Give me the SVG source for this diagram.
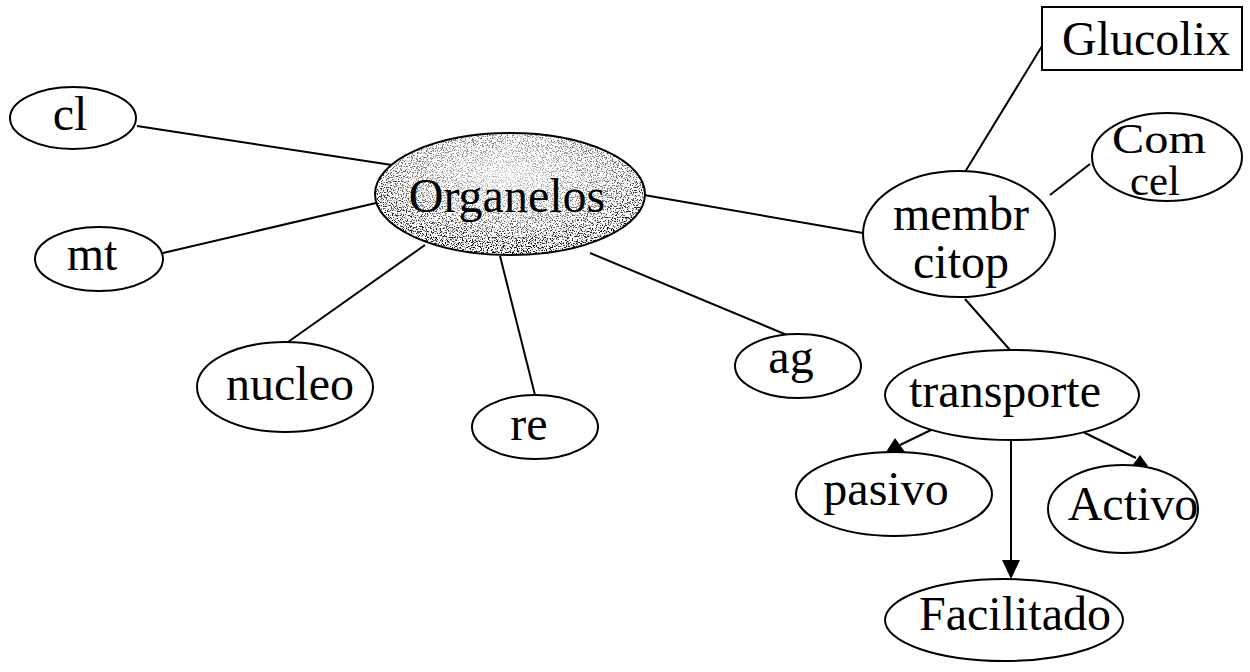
<svg xmlns="http://www.w3.org/2000/svg" width="1250" height="672" viewBox="0 0 1250 672">
  <style>
    .node { fill: #ffffff; stroke: #000000; stroke-width: 2; }
    .edge { stroke: #000000; stroke-width: 2; fill: none; }
    .head { fill: #000000; stroke: none; }
    .label { font-family: "Liberation Serif", "Times New Roman", serif; font-size: 48px; fill: #000000; text-anchor: middle; }
    .small { font-size: 42px; }
  </style>
  <defs>
    <!-- speckled grey texture for the central concept -->
    <filter id="grain" x="0" y="0" width="1" height="1" color-interpolation-filters="sRGB">
      <feTurbulence type="fractalNoise" baseFrequency="0.8" numOctaves="3" seed="7" result="fine"/>
      <feColorMatrix in="fine" type="matrix" values="0 0 0 0 0  0 0 0 0 0  0 0 0 0 0  -7 0 0 0 3.45" result="dots"/>
      <feComposite in="dots" in2="SourceGraphic" operator="in"/>
    </filter>
    <!-- speckle density: sparse near the label, dense toward the rim -->
    <radialGradient id="density" cx="0.5" cy="0.35" r="0.6">
      <stop offset="0" stop-color="#000" stop-opacity="0.2"/>
      <stop offset="0.6" stop-color="#000" stop-opacity="0.55"/>
      <stop offset="1" stop-color="#000" stop-opacity="1"/>
    </radialGradient>
    <clipPath id="orgClip">
      <ellipse cx="510" cy="194" rx="135" ry="61"/>
    </clipPath>
  </defs>

  <!-- connectors -->
  <g id="connectors">
    <line class="edge" x1="137" y1="126" x2="392" y2="165"/>
    <line class="edge" x1="163" y1="253" x2="376" y2="203"/>
    <line class="edge" x1="425" y1="245" x2="288" y2="342"/>
    <line class="edge" x1="500" y1="256" x2="535" y2="395"/>
    <line class="edge" x1="590" y1="253" x2="787" y2="335"/>
    <line class="edge" x1="644" y1="195" x2="863" y2="233"/>
    <line class="edge" x1="1042" y1="46" x2="965" y2="172"/>
    <line class="edge" x1="1090" y1="164" x2="1050" y2="195"/>
    <line class="edge" x1="965" y1="299" x2="1010" y2="350"/>
    <line class="edge" x1="933" y1="429" x2="900" y2="445"/>
    <polygon class="head" points="895,438 886,452 905,452"/>
    <line class="edge" x1="1075" y1="428" x2="1136" y2="458"/>
    <polygon class="head" points="1140,455 1132,466 1148,466"/>
    <line class="edge" x1="1011" y1="440" x2="1011" y2="565"/>
    <polygon class="head" points="1011,579 1002,560 1020,560"/>
  </g>

  <g id="node-organelos">
    <ellipse cx="510" cy="194" rx="135" ry="61" fill="#ffffff"/>
    <rect x="375" y="133" width="270" height="122" fill="url(#density)" filter="url(#grain)" clip-path="url(#orgClip)"/>
    <ellipse cx="510" cy="194" rx="135" ry="61" fill="none" stroke="#000000" stroke-width="2"/>
    <text class="label" x="507" y="212">Organelos</text>
  </g>

  <g id="node-cl">
    <ellipse class="node" cx="73" cy="118" rx="63" ry="31"/>
    <text class="label" x="70" y="130">cl</text>
  </g>

  <g id="node-mt">
    <ellipse class="node" cx="99" cy="259" rx="64" ry="32"/>
    <text class="label" x="92" y="270">mt</text>
  </g>

  <g id="node-nucleo">
    <ellipse class="node" cx="285" cy="387" rx="88" ry="45"/>
    <text class="label" x="290" y="400">nucleo</text>
  </g>

  <g id="node-re">
    <ellipse class="node" cx="535" cy="427" rx="63" ry="32"/>
    <text class="label" x="529" y="440">re</text>
  </g>

  <g id="node-ag">
    <ellipse class="node" cx="798" cy="366" rx="63" ry="32"/>
    <text class="label" x="791" y="373">ag</text>
  </g>

  <g id="node-membr-citop">
    <ellipse class="node" cx="959" cy="234" rx="96" ry="63"/>
    <text class="label" x="961" y="230">membr</text>
    <text class="label" x="961" y="278">citop</text>
  </g>

  <g id="node-glucolix">
    <rect class="node" x="1042" y="7" width="200" height="63"/>
    <text class="label" x="1146" y="55">Glucolix</text>
  </g>

  <g id="node-com-cel">
    <ellipse class="node" cx="1167" cy="157" rx="75" ry="44"/>
    <text class="label small" x="1159" y="153" textLength="94" lengthAdjust="spacingAndGlyphs">Com</text>
    <text class="label small" x="1155" y="195" textLength="50" lengthAdjust="spacingAndGlyphs">cel</text>
  </g>

  <g id="node-transporte">
    <ellipse class="node" cx="1012" cy="395" rx="127" ry="45"/>
    <text class="label" x="1005" y="407">transporte</text>
  </g>

  <g id="node-pasivo">
    <ellipse class="node" cx="894" cy="494" rx="98" ry="42"/>
    <text class="label" x="886" y="505">pasivo</text>
  </g>

  <g id="node-activo">
    <ellipse class="node" cx="1123" cy="509" rx="75" ry="44"/>
    <text class="label" x="1133" y="520">Activo</text>
  </g>

  <g id="node-facilitado">
    <ellipse class="node" cx="1004" cy="620" rx="119" ry="41"/>
    <text class="label" x="1015" y="630">Facilitado</text>
  </g>
</svg>
